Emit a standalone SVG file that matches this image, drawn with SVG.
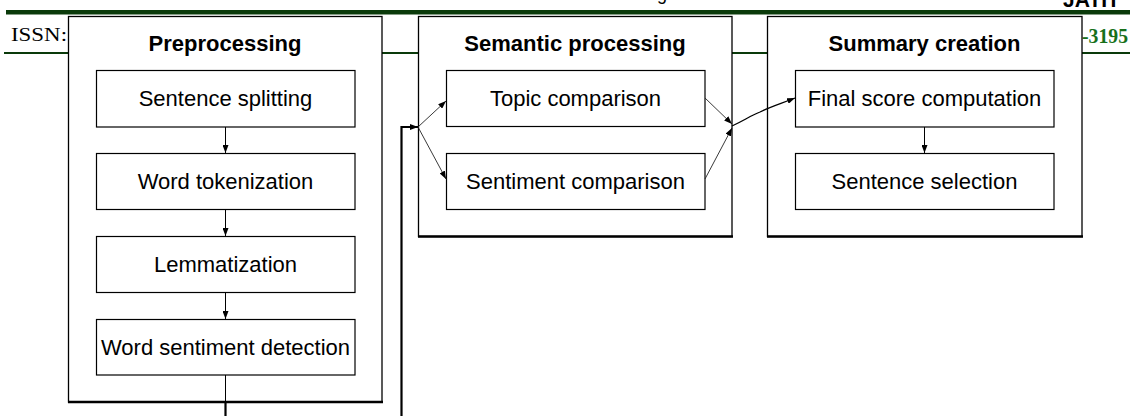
<svg xmlns="http://www.w3.org/2000/svg" width="1130" height="416" viewBox="0 0 1130 416">
<style>
.outer{fill:#fff;stroke:#000;stroke-width:1.3}
.box{fill:#fff;stroke:#000;stroke-width:1.2}
.title{font-family:"Liberation Sans",Arial,sans-serif;font-weight:bold;font-size:22px;text-anchor:middle;fill:#000}
.lbl{font-family:"Liberation Sans",Arial,sans-serif;font-size:22px;text-anchor:middle;fill:#000}
.thin{fill:none;stroke:#000;stroke-width:1}
.diag{fill:none;stroke:#222;stroke-width:0.9}
.thick{fill:none;stroke:#000;stroke-width:2.2}
.hdr{stroke:#0a3a0a}
</style>
<defs>
<marker id="ah" viewBox="0 0 8 6" refX="8" refY="3" markerWidth="8" markerHeight="6" markerUnits="userSpaceOnUse" orient="auto">
<path d="M0,0 L8,3 L0,6 z" fill="#000"/>
</marker>
</defs>
<g id="header">
<text x="657" y="0" font-family="Liberation Sans,Arial,sans-serif" font-size="18" fill="#000">g</text>
<text x="1063" y="7" font-family="Liberation Sans,Arial,sans-serif" font-weight="bold" font-size="22" textLength="57" lengthAdjust="spacingAndGlyphs" fill="#000">JATIT</text>
<rect x="6" y="10" width="1124" height="4.5" fill="#0a3a0a"/>
<text x="11" y="41" font-family="Liberation Serif,Times New Roman,serif" font-size="19" textLength="56" lengthAdjust="spacingAndGlyphs" fill="#000">ISSN:</text>
<text x="1082" y="43" font-family="Liberation Serif,Times New Roman,serif" font-weight="bold" font-size="22" textLength="46" lengthAdjust="spacingAndGlyphs" fill="#17701a">-3195</text>
<line class="hdr" x1="4" y1="53" x2="1130" y2="53" stroke-width="2"/>
</g>
<g id="preprocessing">
<rect class="outer" x="68.5" y="16.5" width="313.5" height="385.5"/>
<line x1="68" y1="402" x2="383" y2="402" stroke="#000" stroke-width="2.5"/>
<text class="title" x="225" y="51">Preprocessing</text>
</g>
<g id="semantic">
<rect class="outer" x="418.5" y="16.5" width="313.5" height="220"/>
<line x1="418" y1="236.5" x2="733" y2="236.5" stroke="#000" stroke-width="2.5"/>
<text class="title" x="575" y="51">Semantic processing</text>
</g>
<g id="summary">
<rect class="outer" x="767.5" y="16.5" width="314.5" height="220"/>
<line x1="767" y1="236.5" x2="1083" y2="236.5" stroke="#000" stroke-width="2.5"/>
<text class="title" x="924.5" y="51">Summary creation</text>
</g>
<g id="sentence-splitting"><rect class="box" x="96.5" y="70.5" width="258.5" height="56.5"/><text class="lbl" x="225.5" y="106">Sentence splitting</text></g>
<g id="word-tokenization"><rect class="box" x="96.5" y="153.5" width="258.5" height="56"/><text class="lbl" x="225.5" y="189">Word tokenization</text></g>
<g id="lemmatization"><rect class="box" x="96.5" y="236.5" width="258.5" height="56"/><text class="lbl" x="225.5" y="272">Lemmatization</text></g>
<g id="word-sentiment-detection"><rect class="box" x="96.5" y="319.5" width="258.5" height="55.5"/><text class="lbl" x="225.5" y="355">Word sentiment detection</text></g>
<g id="topic-comparison"><rect class="box" x="446.5" y="70.5" width="258.5" height="56"/><text class="lbl" x="575.5" y="106">Topic comparison</text></g>
<g id="sentiment-comparison"><rect class="box" x="446.5" y="153.5" width="258.5" height="56"/><text class="lbl" x="575.5" y="189">Sentiment comparison</text></g>
<g id="final-score"><rect class="box" x="795.5" y="70.5" width="258.5" height="56.5"/><text class="lbl" x="924.5" y="106">Final score computation</text></g>
<g id="sentence-selection"><rect class="box" x="795.5" y="153.5" width="258.5" height="56"/><text class="lbl" x="924.5" y="189">Sentence selection</text></g>
<g id="connectors">
<line class="thin" x1="225.5" y1="127" x2="225.5" y2="153" marker-end="url(#ah)"/>
<line class="thin" x1="225.5" y1="210" x2="225.5" y2="236" marker-end="url(#ah)"/>
<line class="thin" x1="225.5" y1="293" x2="225.5" y2="319" marker-end="url(#ah)"/>
<line class="thin" x1="225.5" y1="375" x2="225.5" y2="402"/>
<line class="thick" x1="225.5" y1="402" x2="225.5" y2="416"/>
<polyline class="thick" points="401.5,416 401.5,127 418,127" marker-end="url(#ah)"/>
<line class="diag" x1="418" y1="127" x2="446" y2="101" marker-end="url(#ah)"/>
<line class="diag" x1="418" y1="127" x2="446" y2="179" marker-end="url(#ah)"/>
<line class="diag" x1="705" y1="98" x2="732" y2="124" marker-end="url(#ah)"/>
<line class="diag" x1="705" y1="179" x2="732" y2="128" marker-end="url(#ah)"/>
<path d="M732,126 C745,120 750,116 760,112 C772,106 780,104 795,98" fill="none" stroke="#000" stroke-width="1.3" marker-end="url(#ah)"/>
<line class="thin" x1="924.5" y1="127" x2="924.5" y2="153" marker-end="url(#ah)"/>
</g>
</svg>
